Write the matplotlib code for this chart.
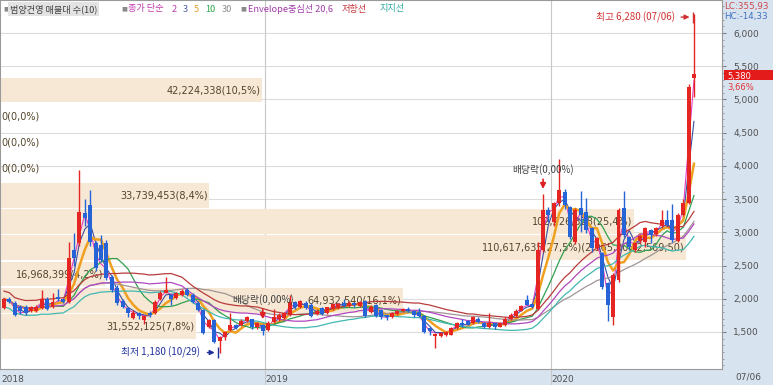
import matplotlib
matplotlib.use('Agg')
import matplotlib.pyplot as plt
import matplotlib.transforms as mtransforms
from matplotlib.patches import Rectangle
import numpy as np
import pandas as pd

plt.rcParams['font.family'] = ['DejaVu Sans', 'Noto Sans CJK KR']
KR = ['Noto Sans CJK KR', 'DejaVu Sans']

# weekly candles (범양건영), first bar = week of 2018-01-22
first_week = '2018-01-22'
opens = [1860, 2000, 1940, 1880, 1880, 1810, 1820, 1860, 2000, 1880,
         2030, 1990, 1950, 2730, 2840, 3290, 3410, 2840, 2810, 2840,
         2330, 2160, 1960, 1860, 1710, 1790, 1680, 1790, 1790, 1990,
         2090, 2050, 2010, 2060, 2130, 2060, 1940, 1830, 1580, 1680,
         1360, 1420, 1530, 1610, 1600, 1670, 1690, 1570, 1600, 1530,
         1650, 1690, 1710, 1760, 1950, 1880, 1940, 1900, 1770, 1860,
         1790, 1840, 1860, 1940, 1890, 1930, 1890, 1960, 1800, 1900,
         1830, 1750, 1720, 1770, 1810, 1850, 1810, 1800, 1740, 1560,
         1440, 1440, 1450, 1460, 1560, 1640, 1660, 1640, 1700, 1640,
         1570, 1630, 1580, 1600, 1690, 1740, 1820, 1980, 1920, 1850,
         2740, 3340, 3160, 3440, 3610, 3380, 2860, 3360, 3310, 3060,
         2760, 2690, 2230, 1720, 2280, 3360, 2930, 2740, 2870, 2860,
         3030, 2970, 3090, 3180, 3190, 2870, 3260, 3440, 5330]
highs = [2010, 2030, 1960, 1900, 1900, 1890, 1900, 2130, 2020, 2080,
         2150, 2000, 2855, 2990, 3940, 3500, 3640, 2870, 2960, 2880,
         2360, 2200, 1990, 1870, 1830, 1800, 1760, 1810, 1980, 2110,
         2330, 2060, 2100, 2140, 2160, 2080, 1960, 1850, 1700, 1700,
         1440, 1520, 1780, 1620, 1690, 1740, 1700, 1650, 1620, 1660,
         1840, 1780, 1800, 2060, 1970, 1980, 1960, 1930, 1840, 1870,
         1880, 1930, 1940, 2000, 1960, 1950, 1970, 1980, 1900, 1920,
         1840, 1760, 1800, 1830, 1860, 1870, 1830, 1860, 1760, 1570,
         1480, 1500, 1510, 1580, 1650, 1700, 1680, 1740, 1720, 1650,
         1780, 1640, 1650, 1720, 1780, 1840, 1910, 2060, 1940, 2860,
         3580, 3380, 3460, 4100, 3650, 3400, 3370, 3620, 3520, 3080,
         2930, 2710, 2250, 2380, 3360, 3620, 2950, 2860, 2960, 3080,
         3050, 3080, 3340, 3340, 3430, 3290, 3500, 5230, 6280]
lows = [1840, 1930, 1740, 1770, 1760, 1800, 1800, 1840, 1830, 1860,
        1970, 1930, 1930, 2500, 2800, 3100, 2800, 2420, 2550, 2280,
        2100, 1900, 1860, 1720, 1690, 1700, 1620, 1730, 1770, 1980,
        2080, 1900, 2000, 2040, 2040, 1940, 1810, 1470, 1560, 1330,
        1180, 1380, 1510, 1540, 1590, 1650, 1550, 1550, 1460, 1520,
        1640, 1670, 1690, 1740, 1850, 1860, 1840, 1720, 1760, 1750,
        1770, 1830, 1850, 1880, 1870, 1880, 1880, 1720, 1790, 1720,
        1700, 1680, 1710, 1760, 1800, 1800, 1720, 1730, 1480, 1460,
        1260, 1420, 1440, 1450, 1550, 1580, 1600, 1620, 1640, 1560,
        1560, 1550, 1570, 1590, 1680, 1730, 1810, 1900, 1860, 1830,
        2700, 3150, 3100, 3400, 3350, 2900, 2820, 3000, 2990, 2700,
        2740, 2150, 1660, 1600, 2250, 2930, 2740, 2700, 2840, 2780,
        2840, 2950, 3070, 3090, 2860, 2850, 3240, 3420, 5040]
closes = [1995, 1950, 1760, 1810, 1790, 1870, 1880, 2000, 1850, 1950,
          1990, 1950, 2610, 2610, 3310, 3220, 2860, 2470, 2580, 2310,
          2130, 1940, 1880, 1790, 1790, 1740, 1740, 1750, 1950, 2090,
          2130, 1990, 2080, 2110, 2060, 1950, 1830, 1480, 1680, 1350,
          1420, 1500, 1610, 1560, 1670, 1720, 1570, 1630, 1510, 1640,
          1720, 1760, 1790, 1950, 1880, 1960, 1860, 1740, 1820, 1770,
          1870, 1920, 1920, 1890, 1930, 1900, 1950, 1740, 1880, 1740,
          1720, 1720, 1780, 1820, 1840, 1810, 1750, 1740, 1500, 1510,
          1470, 1490, 1500, 1560, 1640, 1600, 1610, 1720, 1650, 1570,
          1640, 1570, 1630, 1700, 1760, 1820, 1890, 1910, 1880, 2740,
          3340, 3260, 3440, 3640, 3410, 2930, 3340, 3260, 3030, 2760,
          2910, 2180, 1910, 2360, 3340, 2960, 2780, 2840, 2940, 3060,
          2960, 3060, 3190, 3110, 2890, 3260, 3440, 5190, 5380]

# 매물대 (10 bands, bottom to top)
band_bottom = 1383.0
band_step = 395.5
band_volumes = [31552125, 64932540, 16968399, 110617635, 102226328,
                33739453, 0, 0, 0, 42224338]
band_pcts = [7.8, 16.1, 4.2, 27.5, 25.4, 8.4, 0.0, 0.0, 0.0, 10.5]

ma_periods = [2, 3, 5, 10, 30]
env_period, env_pct = 20, 6

year_labels = ['2018', '2019', '2020']
year_first_bar = [0, 49, 102]
dividend_bars = [48, 100]
price_ticks = [1500, 2000, 2500, 3000, 3500, 4000, 4500, 5000, 5500, 6000]


def kr(v, d):
    # korean chart style: comma as decimal mark
    s = f'{v:,.{d}f}'
    return s.replace('.', '#').replace('#', ',')


O = np.array(opens, float)
H = np.array(highs, float)
L = np.array(lows, float)
C = np.array(closes, float)
n = len(C)
x = np.arange(n)
dates = pd.date_range(first_week, periods=n, freq='7D')

W, Hh = 773, 385
fig = plt.figure(figsize=(W / 100, Hh / 100), dpi=100, facecolor='#d8e3f0')
ax = fig.add_axes([0, 16 / Hh, 722 / W, 369 / Hh])
ax.set_facecolor('white')
x0, x1 = -0.74, 133.2
ax.set_xlim(x0, x1)
ax.set_ylim(942, 6497)

# grid
for p in price_ticks:
    ax.axhline(p, color='#dcdcdc', lw=0.8, zorder=0)
for b in year_first_bar[1:]:
    ax.axvline(b - 0.5, ymin=-16 / 369, ymax=1, color='#c8c8c8', lw=0.8,
               zorder=0, clip_on=False)

# volume profile
band_lo = band_bottom + band_step * np.arange(len(band_volumes))
vmax = max(band_volumes)
widths = np.array(band_volumes) / vmax * 127.3
ax.barh(band_lo + band_step / 2, widths, height=band_step * 0.94, left=x0,
        color='#f7e8d5', zorder=0.5)
imax = int(np.argmax(band_volumes))
for i, (v, pc) in enumerate(zip(band_volumes, band_pcts)):
    label = f'{v:,}({kr(pc, 1)}%)'
    yc = band_lo[i] + band_step / 2
    if i == imax:
        label += f'({kr(band_lo[i] + band_step, 2)}~{kr(band_lo[i], 2)})'
    if v == 0:
        ax.text(x0 + 0.3, yc, label, ha='left', va='center', fontsize=7,
                color='#54442a', zorder=1)
    else:
        ax.text(x0 + widths[i] - 0.3, yc, label, ha='right', va='center',
                fontsize=7, color='#54442a', zorder=1)

# moving averages and envelope
s = pd.Series(C)
ma_colors = ['#e040c0', '#3a4fa0', '#f0a020', '#30a050', '#a09595']
ma_widths = [0.8, 0.8, 1.8, 0.9, 0.9]
for p, c, lw in zip(ma_periods, ma_colors, ma_widths):
    ax.plot(x, s.rolling(p, min_periods=1).mean(), color=c, lw=lw, zorder=2)
mid = s.rolling(env_period, min_periods=1).mean()
ax.plot(x, mid * (1 + env_pct / 100), color='#b83c3c', lw=0.9, zorder=2)
ax.plot(x, mid, color='#b048c0', lw=0.9, zorder=2)
ax.plot(x, mid * (1 - env_pct / 100), color='#40b8b0', lw=0.9, zorder=2)

# candles
red, blue = '#e52521', '#2563d6'
cols = np.where(C >= O, red, blue)
ax.vlines(x, L, H, colors=cols, lw=1, zorder=3)
ax.bar(x, np.maximum(np.abs(C - O), 10), bottom=np.minimum(O, C), width=0.74,
       color=cols, linewidth=0, zorder=4)

# dividend marks
for b in dividend_bars:
    tip = H[b] + 30
    ax.annotate('', xy=(b, tip), xytext=(b, tip + 230),
                arrowprops=dict(arrowstyle='-|>', color='#e02020', lw=1.2,
                                mutation_scale=8), zorder=5)
    ax.text(b, tip + 250, '배당락(0,00%)', ha='center', va='bottom',
            fontsize=7, color='#404040', family=KR, zorder=5)

# high / low
ih = int(np.argmax(H))
il = int(np.argmin(L))
ax.text(ih - 3.5, H[ih] - 40, f'최고 {H[ih]:,.0f} ({dates[ih]:%m/%d})',
        ha='right', va='center', fontsize=7, color='#d03030', family=KR, zorder=5)
ax.annotate('', xy=(ih - 0.3, H[ih] - 40), xytext=(ih - 2.9, H[ih] - 40),
            arrowprops=dict(arrowstyle='-|>', color='#d03030', lw=1,
                            mutation_scale=7), zorder=5)
ax.vlines(ih - 0.25, H[ih] - 130, H[ih] + 40, color='#d03030', lw=1, zorder=5)
ax.text(il - 3.6, L[il] + 10, f'최저 {L[il]:,.0f} ({dates[il]:%m/%d})',
        ha='right', va='center', fontsize=7, color='#1f2f9a', family=KR, zorder=5)
ax.annotate('', xy=(il - 0.4, L[il] + 10), xytext=(il - 2.8, L[il] + 10),
            arrowprops=dict(arrowstyle='-|>', color='#1f2f9a', lw=1,
                            mutation_scale=7), zorder=5)
ax.vlines(il - 0.35, L[il] - 70, L[il] + 90, color='#1f2f9a', lw=1, zorder=5)

# axes
ax.yaxis.tick_right()
ax.set_yticks(price_ticks)
ax.set_yticklabels([f'{p:,}' for p in price_ticks])
ax.set_yticks(np.arange(1000, 6500, 100), minor=True)
ax.tick_params(axis='y', which='major', labelsize=6.5, labelcolor='#505050',
               color='#808080', length=3, pad=5)
ax.tick_params(axis='y', which='minor', color='#909090', length=1.5)
ax.set_xticks([b - 0.5 for b in year_first_bar])
ax.set_xticklabels(year_labels, ha='left')
ax.tick_params(axis='x', labelsize=6.5, labelcolor='#505050', length=0, pad=4)
for sp in ax.spines.values():
    sp.set_color('#9a9a9a')
    sp.set_linewidth(0.8)
fig.text(735 / W, 1 - 377 / Hh, f'{dates[-1]:%m/%d}', fontsize=6.5,
         color='#505050', va='center')

# last price box
trans = mtransforms.blended_transform_factory(ax.transAxes, ax.transData)
ax.add_patch(Rectangle((1.003, C[-1] - 85), 0.068, 150, transform=trans,
                       facecolor='#e31b1b', edgecolor='none', clip_on=False,
                       zorder=10))
ax.text(1.008, C[-1] - 28, f'{C[-1]:,.0f}', transform=trans, fontsize=6,
        color='white', va='center', ha='left', clip_on=False, zorder=11)
chg = (C[-1] / C[-2] - 1) * 100
ax.text(1.008, C[-1] - 195, f'{kr(chg, 2)}%', transform=trans, fontsize=6,
        color='#e03030', va='center', ha='left', clip_on=False, zorder=11)

# LC / HC
lc = (C[-1] / L.min() - 1) * 100
hc = (C[-1] / H.max() - 1) * 100
fig.text(724 / W, 1 - 7 / Hh, f'LC:{kr(lc, 2)}', fontsize=6.3, color='#d04848',
         va='center')
fig.text(724 / W, 1 - 17 / Hh, f'HC:{kr(hc, 2)}', fontsize=6.3, color='#4070c0',
         va='center')

# legend row
def lg(px, txt, color, **kw):
    fig.text(px / W, 1 - 9 / Hh, txt, fontsize=6.6, color=color, va='center',
             family=KR, **kw)


for sq in (3, 121, 240):
    fig.text(sq / W, 1 - 9 / Hh, '■', fontsize=4.5, color='#8a8a8a', va='center')
lg(10, '범양건영 매물대 수(10)', '#404040',
   bbox=dict(boxstyle='square,pad=0.2', fc='#e3e3e3', ec='none'))
lg(128, '종가 단순', '#c23ab0')
lg(172, '2', '#c23ab0')
lg(183, '3', '#4a5aa8')
lg(194, '5', '#e8a030')
lg(205, '10', '#2ea44a')
lg(222, '30', '#8c8c8c')
lg(248, 'Envelope중심선 20,6', '#a23aa8')
lg(342, '저항선', '#c8323a')
lg(380, '지지선', '#2fa8a0')

fig.savefig('out.png', dpi=100, facecolor=fig.get_facecolor())
